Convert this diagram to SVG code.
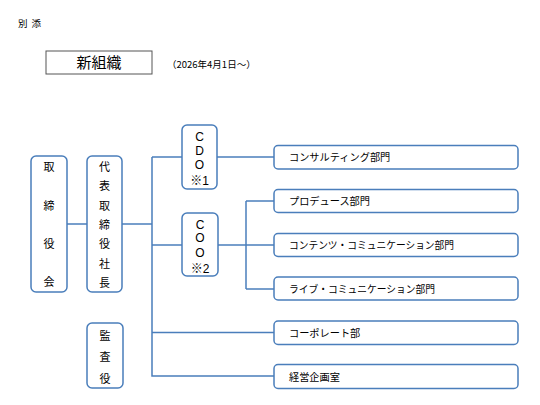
<svg xmlns="http://www.w3.org/2000/svg" width="540" height="405" viewBox="0 0 540 405">
<style>
.b{fill:#fff;stroke:#4a7ebb;stroke-width:1.5}
.c{fill:none;stroke:#4a7ebb;stroke-width:1.5}
text{font-family:"Noto Sans CJK JP","Liberation Sans",sans-serif;fill:#000}
.v{font-size:11px;text-anchor:middle}
.l{font-family:"Liberation Sans","Noto Sans CJK JP",sans-serif;font-size:12px;text-anchor:middle}
.r{font-size:10.2px}
</style>
<rect width="540" height="405" fill="#fff"/>
<text x="18" y="27" font-size="9.5">別<tspan dx="4">添</tspan></text>
<g id="title">
<rect x="46" y="51" width="106" height="23" fill="#fff" stroke="#555" stroke-width="1"/>
<text x="99" y="68" font-size="15" text-anchor="middle">新組織</text>
</g>
<text x="167" y="68" font-size="9.5">（2026年4月1日～）</text>
<g id="connectors" class="c">
<path d="M67 224H87"/>
<path d="M122 224H152"/>
<path d="M152 157V376H274"/>
<path d="M152 157H182"/>
<path d="M152 245H182"/>
<path d="M152 332.5H274"/>
<path d="M217 157H274"/>
<path d="M218 245H274"/>
<path d="M246 201V289"/>
<path d="M246 201H274"/>
<path d="M246 289H274"/>
</g>
<g id="board">
<rect class="b" x="31" y="156" width="36" height="136" rx="5"/>
<text class="v" x="49" y="171">取</text>
<text class="v" x="49" y="210">締</text>
<text class="v" x="49" y="248">役</text>
<text class="v" x="49" y="286">会</text>
</g>
<g id="ceo">
<rect class="b" x="87" y="156" width="35" height="136" rx="5"/>
<text class="v" x="104.5" y="171">代</text>
<text class="v" x="104.5" y="190">表</text>
<text class="v" x="104.5" y="209.5">取</text>
<text class="v" x="104.5" y="229">締</text>
<text class="v" x="104.5" y="248">役</text>
<text class="v" x="104.5" y="268">社</text>
<text class="v" x="104.5" y="287">長</text>
</g>
<g id="auditor">
<rect class="b" x="87" y="323" width="36" height="65" rx="5"/>
<text class="v" x="105" y="340">監</text>
<text class="v" x="105" y="361">査</text>
<text class="v" x="105" y="383">役</text>
</g>
<g id="cdo">
<rect class="b" x="182" y="125" width="35" height="64" rx="5"/>
<text class="l" x="199.5" y="140.5">C</text>
<text class="l" x="199.5" y="155">D</text>
<text class="l" x="199.5" y="169">O</text>
<text class="l" x="199.5" y="184.5">※1</text>
</g>
<g id="coo">
<rect class="b" x="182" y="213" width="36" height="63" rx="5"/>
<text class="l" x="200" y="228.5">C</text>
<text class="l" x="200" y="242">O</text>
<text class="l" x="200" y="256.5">O</text>
<text class="l" x="200" y="272.5">※2</text>
</g>
<g id="consulting">
<rect class="b" x="274" y="145.5" width="244" height="23.5" rx="4"/>
<text class="r" x="289" y="161">コンサルティング部門</text>
</g>
<g id="produce">
<rect class="b" x="274" y="189.5" width="244" height="23" rx="4"/>
<text class="r" x="289" y="205">プロデュース部門</text>
</g>
<g id="contents">
<rect class="b" x="274" y="233.5" width="244" height="23" rx="4"/>
<text class="r" x="289" y="249" textLength="165" lengthAdjust="spacingAndGlyphs">コンテンツ・コミュニケーション部門</text>
</g>
<g id="live">
<rect class="b" x="274" y="277" width="244" height="23" rx="4"/>
<text class="r" x="289" y="293" textLength="146" lengthAdjust="spacingAndGlyphs">ライブ・コミュニケーション部門</text>
</g>
<g id="corporate">
<rect class="b" x="274" y="321" width="244" height="23.5" rx="4"/>
<text class="r" x="289" y="336.5">コーポレート部</text>
</g>
<g id="planning">
<rect class="b" x="274" y="364.5" width="244" height="24" rx="4"/>
<text class="r" x="289" y="380.5">経営企画室</text>
</g>
</svg>
